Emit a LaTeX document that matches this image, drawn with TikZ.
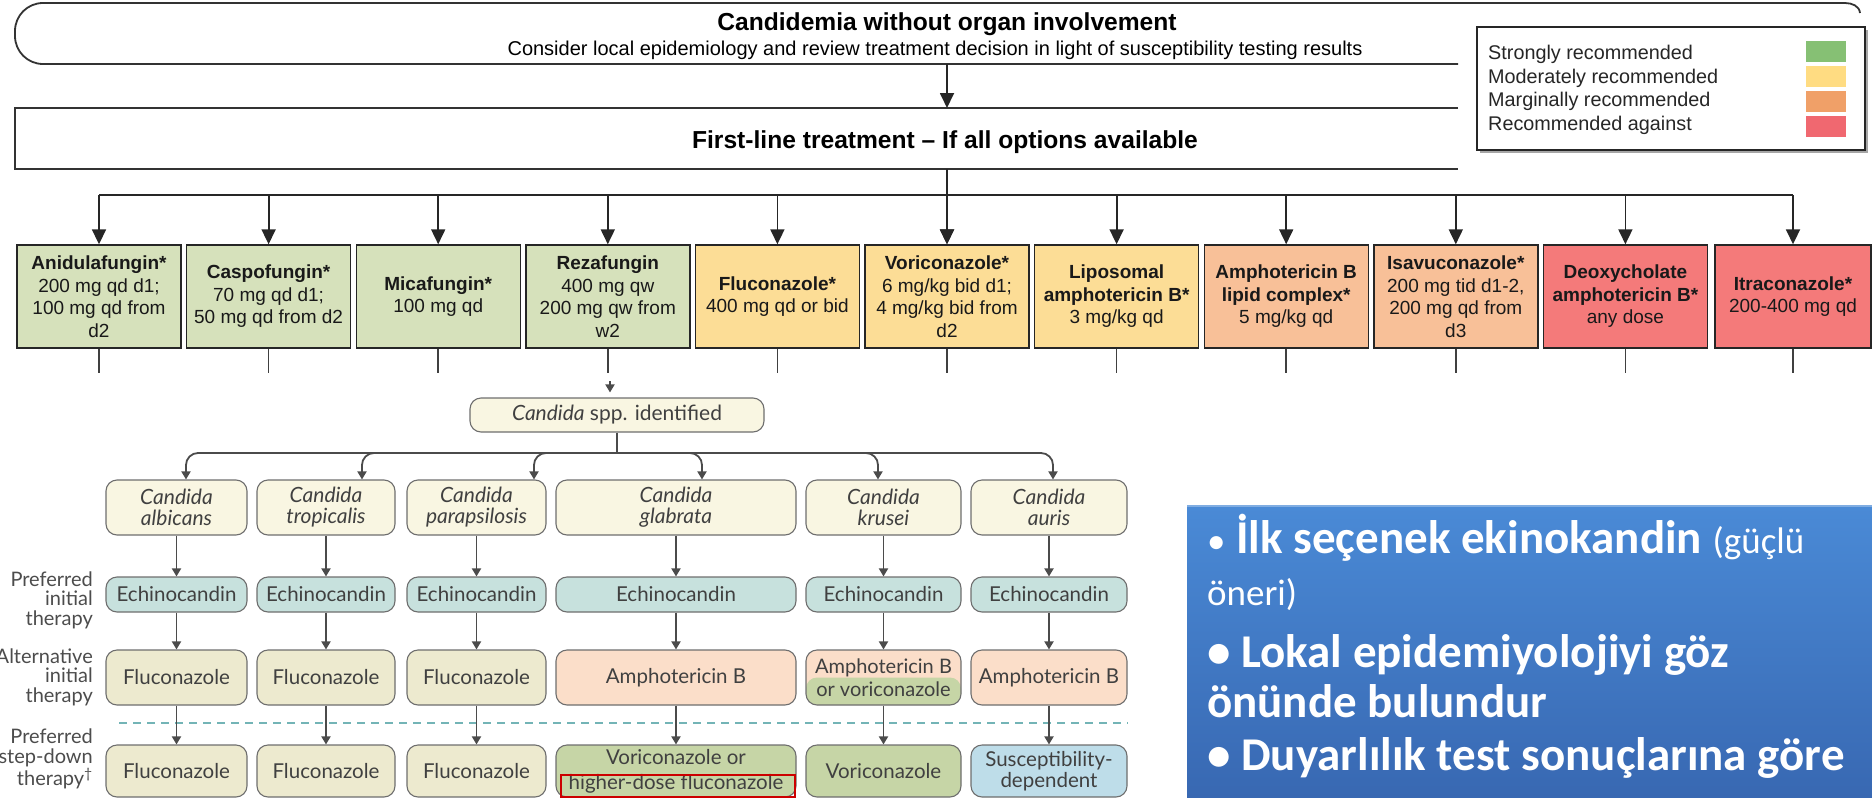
\documentclass[tikz,border=0pt]{standalone}
\usepackage{fontspec}
\setmainfont{Liberation Sans}
\newfontfamily\latofont{Lato}
\newfontfamily\calfont{Carlito}
\usetikzlibrary{arrows.meta}
\definecolor{dgreen}{RGB}{214,225,187}
\definecolor{dyellow}{RGB}{252,221,150}
\definecolor{dorange}{RGB}{248,192,152}
\definecolor{dred}{RGB}{244,122,122}
\definecolor{lgreen}{RGB}{134,192,116}
\definecolor{lyellow}{RGB}{255,220,130}
\definecolor{lorange}{RGB}{240,160,104}
\definecolor{lred}{RGB}{240,104,112}
\definecolor{cream}{RGB}{249,246,226}
\definecolor{khaki}{RGB}{237,234,207}
\definecolor{echoteal}{RGB}{199,225,221}
\definecolor{peach}{RGB}{251,222,201}
\definecolor{stepgreen}{RGB}{198,213,166}
\definecolor{sblue}{RGB}{190,221,233}
\definecolor{sborder}{RGB}{110,110,110}
\definecolor{arrowgray}{RGB}{75,75,75}
\definecolor{dashteal}{RGB}{115,180,182}
\definecolor{bluetop}{RGB}{74,138,214}
\definecolor{bluebot}{RGB}{56,104,178}
\tikzset{
  boxline/.style={draw=black!80, line width=1.8pt},
  drug/.style={draw=black!85, line width=1.4pt, minimum width=164pt, minimum height=103pt, inner sep=1pt, align=center, font=\fontsize{19}{22.5}\selectfont, text=black!90},
  bigarr/.style={line width=1.8pt, draw=black!85, -{Triangle[width=14pt,length=15pt]}},
  busline/.style={line width=1.8pt, draw=black!85},
  stem/.style={line width=1.5pt, draw=black!75},
  legtext/.style={anchor=base west, font=\fontsize{19.8}{22}\selectfont, inner sep=0pt, text=black!85},
  swatch/.style={minimum width=40pt, minimum height=21pt, inner sep=0pt},
  cbox/.style={draw=sborder, line width=1.1pt, rounded corners=11pt, align=center, inner sep=0pt, font=\latofont\fontsize{20.5}{21}\selectfont, text=black!75},
  spbox/.style={cbox, font=\latofont\itshape\fontsize{21}{21}\selectfont},
  carr/.style={line width=1.8pt, draw=arrowgray, -{Triangle[width=9pt,length=8pt]}},
  rowlab/.style={anchor=east, align=right, inner sep=0pt, font=\latofont\fontsize{20}{19.5}\selectfont, text=black!70},
  btext/.style={anchor=base west, inner sep=0pt, text=white, font=\calfont\bfseries\fontsize{47}{50}\selectfont},
}
\begin{document}
\begin{tikzpicture}[x=1pt,y=-1pt]
\useasboundingbox (0,0) rectangle (1872,798);
% top boxes
\draw[boxline, rounded corners=28pt] (1458,64) -- (15,64) -- (15,3) -- (1458,3);
\draw[boxline] (1458,3) -- (1845,3) to[out=0,in=95] (1860,13);
\draw[boxline] (1458,108) -- (15,108) -- (15,169) -- (1458,169);
\node[anchor=base, font=\bfseries\fontsize{24.6}{28}\selectfont, inner sep=0pt] (t1) at (947,30) {Candidemia without organ involvement};
\node[anchor=base, font=\fontsize{20}{22}\selectfont, inner sep=0pt] (t2) at (935,55) {Consider local epidemiology and review treatment decision in light of susceptibility testing results};
\node[anchor=base, font=\bfseries\fontsize{24.6}{28}\selectfont, inner sep=0pt] (t3) at (945,148) {First-line treatment -- If all options available};
\coordinate (tb) at (947,64);
\coordinate (flt) at (947,108);
\coordinate (flb) at (947,169);
\draw[bigarr] (tb) -- (flt);
% legend
\fill[black!35] (1480,30) rectangle (1868,153);
\node[draw=black!85, fill=white, line width=1.6pt, minimum width=388pt, minimum height=123pt, inner sep=0pt] (legend) at (1671,88.5) {};
\node[legtext] (lg1) at (1488,59) {Strongly recommended};
\node[legtext] (lg2) at (1488,83) {Moderately recommended};
\node[legtext] (lg3) at (1488,106) {Marginally recommended};
\node[legtext] (lg4) at (1488,130) {Recommended against};
\node[swatch, fill=lgreen] (sw1) at (1826,51.5) {};
\node[swatch, fill=lyellow] (sw2) at (1826,76) {};
\node[swatch, fill=lorange] (sw3) at (1826,101) {};
\node[swatch, fill=lred] (sw4) at (1826,126) {};
% drug boxes
\node[drug, fill=dgreen] (d1) at (99,296.5) {\textbf{Anidulafungin*}\\200 mg qd d1;\\100 mg qd from\\d2};
\node[drug, fill=dgreen] (d2) at (268.6,296.5) {\textbf{Caspofungin*}\\70 mg qd d1;\\50 mg qd from d2};
\node[drug, fill=dgreen] (d3) at (438.2,296.5) {\textbf{Micafungin*}\\100 mg qd};
\node[drug, fill=dgreen] (d4) at (607.8,296.5) {\textbf{Rezafungin}\\400 mg qw\\200 mg qw from\\w2};
\node[drug, fill=dyellow] (d5) at (777.4,296.5) {\textbf{Fluconazole*}\\400 mg qd or bid};
\node[drug, fill=dyellow] (d6) at (947,296.5) {\textbf{Voriconazole*}\\6 mg/kg bid d1;\\4 mg/kg bid from\\d2};
\node[drug, fill=dyellow] (d7) at (1116.6,296.5) {\textbf{Liposomal}\\\textbf{amphotericin B*}\\3 mg/kg qd};
\node[drug, fill=dorange] (d8) at (1286.2,296.5) {\textbf{Amphotericin B}\\\textbf{lipid complex*}\\5 mg/kg qd};
\node[drug, fill=dorange] (d9) at (1455.8,296.5) {\textbf{Isavuconazole*}\\200 mg tid d1-2,\\200 mg qd from\\d3};
\node[drug, fill=dred] (d10) at (1625.4,296.5) {\textbf{Deoxycholate}\\\textbf{amphotericin B*}\\any dose};
\node[drug, fill=dred, minimum width=156pt] (d11) at (1793,296.5) {\textbf{Itraconazole*}\\200-400 mg qd};
\coordinate (busL) at (99,195);
\coordinate (busR) at (1793,195);
\draw[busline] (busL) -- (busR);
\foreach \i in {1,...,11} {\draw[bigarr] (d\i.north |- busL) -- (d\i.north);}
\draw[bigarr] (flb) -- (d6.north);
\foreach \i in {1,...,11} {\draw[stem] (d\i.south) -- ++(0,24);}
% Candida section
\node[cbox, fill=cream, minimum width=294pt, minimum height=34pt, font=\latofont\fontsize{21}{21}\selectfont] (spp) at (617,415) {\textit{Candida} spp. identified};
\coordinate (sppin) at (610,381);
\draw[carr, shorten >=5pt] (sppin) -- (sppin |- spp.north);
\node[spbox, fill=cream, minimum width=141pt, minimum height=55pt] (s1) at (176.5,507.5) {Candida\\albicans};
\node[spbox, fill=cream, minimum width=138pt, minimum height=55pt] (s2) at (326,507.5) {Candida\\tropicalis};
\node[spbox, fill=cream, minimum width=139pt, minimum height=55pt] (s3) at (476.5,507.5) {Candida\\parapsilosis};
\node[spbox, fill=cream, minimum width=240pt, minimum height=55pt] (s4) at (676,507.5) {Candida\\glabrata};
\node[spbox, fill=cream, minimum width=155pt, minimum height=55pt] (s5) at (883.5,507.5) {Candida\\krusei};
\node[spbox, fill=cream, minimum width=156pt, minimum height=55pt] (s6) at (1049,507.5) {Candida\\auris};
\coordinate (trunk) at (617,453);
\coordinate (k1) at (186,453);
\coordinate (k2) at (362,453);
\coordinate (k3) at (534,453);
\coordinate (k4) at (702,453);
\coordinate (k5) at (878,453);
\coordinate (k6) at (1053,453);
\draw[line width=1.8pt, draw=arrowgray] (spp.south) -- (trunk);
\foreach \i in {1,...,6} {\draw[carr, rounded corners=12pt] (trunk) -- (k\i) -- (k\i |- s\i.north);}
% echinocandin row
\node[cbox, fill=echoteal, minimum width=141pt, minimum height=35pt] (e1) at (176.5,594.5) {Echinocandin};
\node[cbox, fill=echoteal, minimum width=138pt, minimum height=35pt] (e2) at (326,594.5) {Echinocandin};
\node[cbox, fill=echoteal, minimum width=139pt, minimum height=35pt] (e3) at (476.5,594.5) {Echinocandin};
\node[cbox, fill=echoteal, minimum width=240pt, minimum height=35pt] (e4) at (676,594.5) {Echinocandin};
\node[cbox, fill=echoteal, minimum width=155pt, minimum height=35pt] (e5) at (883.5,594.5) {Echinocandin};
\node[cbox, fill=echoteal, minimum width=156pt, minimum height=35pt] (e6) at (1049,594.5) {Echinocandin};
% alternative row
\node[cbox, fill=khaki, minimum width=141pt, minimum height=55pt] (a1) at (176.5,677.5) {Fluconazole};
\node[cbox, fill=khaki, minimum width=138pt, minimum height=55pt] (a2) at (326,677.5) {Fluconazole};
\node[cbox, fill=khaki, minimum width=139pt, minimum height=55pt] (a3) at (476.5,677.5) {Fluconazole};
\node[cbox, fill=peach, minimum width=240pt, minimum height=55pt] (a4) at (676,677.5) {Amphotericin B};
\node[cbox, fill=peach, minimum width=155pt, minimum height=55pt, font=\latofont\fontsize{20}{23}\selectfont,
  path picture={\fill[stepgreen] (path picture bounding box.west) rectangle (path picture bounding box.south east);}] (a5) at (883.5,677.5) {Amphotericin B\\or voriconazole};
\node[cbox, fill=peach, minimum width=156pt, minimum height=55pt] (a6) at (1049,677.5) {Amphotericin B};
% dashed separator
\coordinate (dashL) at (119,723);
\coordinate (dashR) at (1128,723);
\draw[dashteal, line width=2pt, dash pattern=on 8pt off 6pt] (dashL) -- (dashR);
% step-down row
\node[cbox, fill=khaki, minimum width=141pt, minimum height=52pt] (p1) at (176.5,771) {Fluconazole};
\node[cbox, fill=khaki, minimum width=138pt, minimum height=52pt] (p2) at (326,771) {Fluconazole};
\node[cbox, fill=khaki, minimum width=139pt, minimum height=52pt] (p3) at (476.5,771) {Fluconazole};
\node[cbox, fill=stepgreen, minimum width=240pt, minimum height=52pt, font=\latofont\fontsize{20.5}{25}\selectfont] (p4) at (676,771) {Voriconazole or\\higher-dose fluconazole};
\node[cbox, fill=stepgreen, minimum width=155pt, minimum height=52pt] (p5) at (883.5,771) {Voriconazole};
\node[cbox, fill=sblue, minimum width=156pt, minimum height=52pt, font=\latofont\fontsize{20.5}{21}\selectfont] (p6) at (1049,771) {Susceptibility-\\dependent};
\draw[red!80!black, line width=1.3pt] (561,775) rectangle (795,797);
\foreach \i in {1,...,6} {
  \draw[carr] (s\i) -- (e\i);
  \draw[carr] (e\i) -- (a\i);
  \draw[carr] (a\i) -- (p\i);
}
% row labels
\node[rowlab] (l1) at (93,600) {Preferred\\initial\\therapy};
\node[rowlab] (l2) at (93,677) {Alternative\\initial\\therapy};
\node[rowlab] (l3) at (93,759) {Preferred\\step-down\\therapy\textsuperscript{\dag}};
% blue box
\shade[top color=bluetop, bottom color=bluebot] (1187,506) rectangle (1872,798);
\draw[bluetop!70!white, line width=1.5pt] (1187,506) -- (1872,506);
\node[btext] (b1) at (1207,553) {{\mdseries\fontsize{37}{40}\selectfont •} İlk seçenek ekinokandin {\mdseries\fontsize{37}{40}\selectfont (güçlü}};
\node[btext, font=\calfont\fontsize{37}{40}\selectfont] (b2) at (1207,605) {öneri)};
\node[btext] (b3) at (1207,667) {• Lokal epidemiyolojiyi göz};
\node[btext] (b4) at (1207,717) {önünde bulundur};
\node[btext] (b5) at (1207,770) {• Duyarlılık test sonuçlarına göre};
\end{tikzpicture}
\end{document}
